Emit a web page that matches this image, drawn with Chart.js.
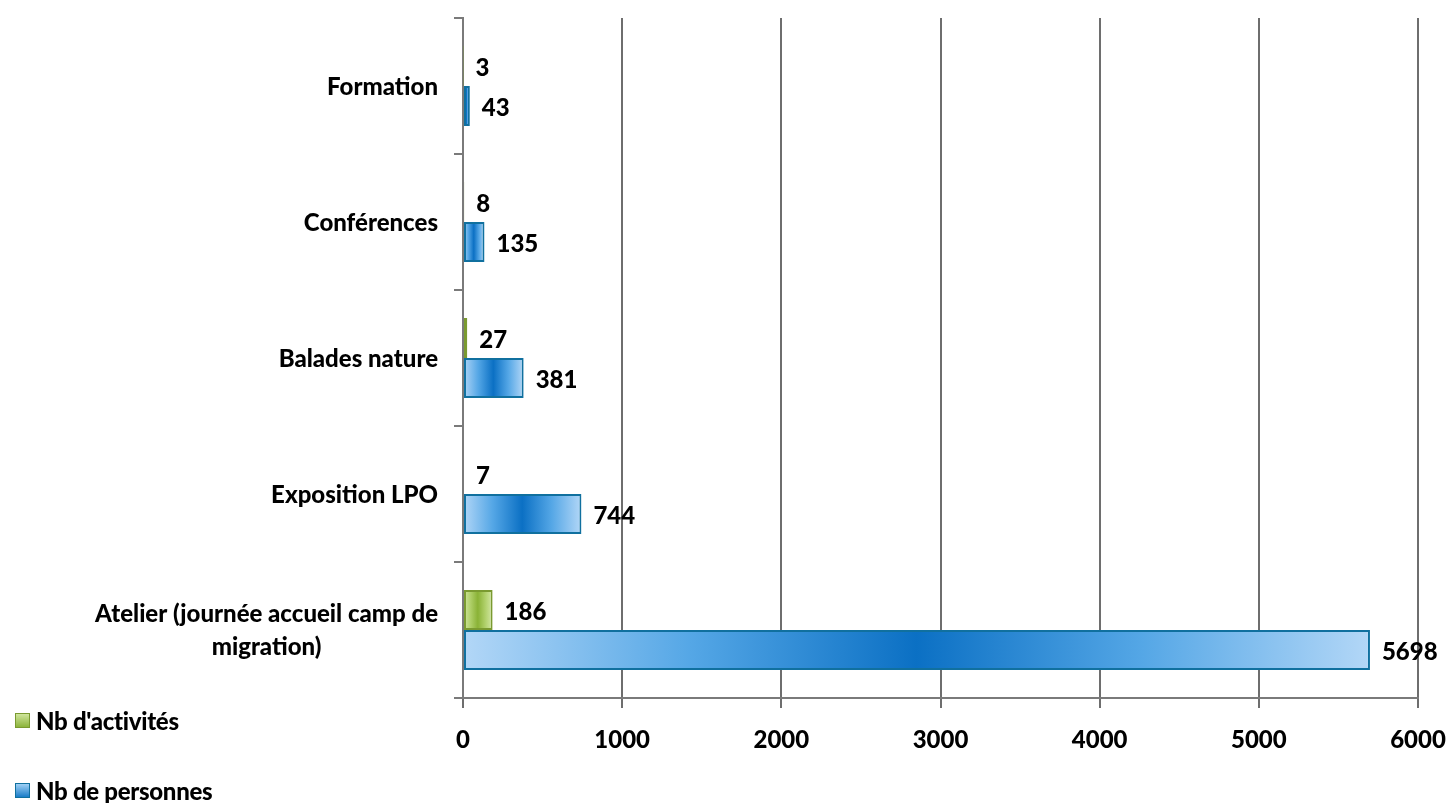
<!DOCTYPE html>
<html>
<head>
<meta charset="utf-8">
<script src="https://cdn.jsdelivr.net/npm/chart.js@4.4.1/dist/chart.umd.min.js"></script>
<style>
  body { margin: 0; background: #fff; }
  #wrap { position: relative; width: 1450px; height: 803px; }
  .legend { position: absolute; left: 15px; font: 900 24px Lato, sans-serif; color: #000; display: flex; align-items: center; letter-spacing: -0.3px; }
  .legend span.box { width: 13px; height: 13px; margin-right: 6px; border: 1px solid; }
</style>
</head>
<body>
<div id="wrap">
  <canvas id="activitiesChart" width="1450" height="803"></canvas>
  <div class="legend" style="top: 706px;"><span class="box" style="background: linear-gradient(#cfe59c, #8db43c); border-color: #7a9a30;"></span>Nb d'activités</div>
  <div class="legend" style="top: 776px;"><span class="box" style="background: linear-gradient(#9fd0f5, #1a7cc8); border-color: #10709f;"></span>Nb de personnes</div>
</div>
<script>
const categories = ['Formation', 'Conférences', 'Balades nature', 'Exposition LPO', ['Atelier (journée accueil camp de', 'migration)']];
const nbActivites = [3, 8, 27, 7, 186];
const nbPersonnes = [43, 135, 381, 744, 5698];
const xTicks = [0, 1000, 2000, 3000, 4000, 5000, 6000];

const labelFont = '900 24px Lato, sans-serif';

// light at both ends, dark in the middle, like the Office fill
function barGradient(light, mid, dark) {
  return function (context) {
    const chart = context.chart;
    const xScale = chart.scales.x;
    if (!chart.chartArea || !xScale || context.type !== 'data') return dark;
    const x0 = xScale.getPixelForValue(0);
    const x1 = xScale.getPixelForValue(context.raw);
    const g = chart.ctx.createLinearGradient(x0, 0, Math.max(x1, x0 + 1), 0);
    g.addColorStop(0, light);
    g.addColorStop(0.25, mid);
    g.addColorStop(0.5, dark);
    g.addColorStop(0.75, mid);
    g.addColorStop(1, light);
    return g;
  };
}

const labelPlugin = {
  id: 'labelPlugin',
  afterDatasetsDraw(chart) {
    const ctx = chart.ctx;
    ctx.save();
    ctx.font = labelFont;
    ctx.fillStyle = '#000';
    ctx.textBaseline = 'middle';
    ctx.textAlign = 'left';
    chart.data.datasets.forEach((ds, i) => {
      chart.getDatasetMeta(i).data.forEach((bar, j) => {
        ctx.fillText(String(ds.data[j]), bar.x + 12, bar.y + 2);
      });
    });
    // category labels, wrapped one centered as a block
    const y = chart.scales.y;
    const right = y.right - 25;
    categories.forEach((cat, j) => {
      const lines = Array.isArray(cat) ? cat : [cat];
      const cy = y.getPixelForValue(j);
      const blockW = Math.max(...lines.map(l => ctx.measureText(l).width));
      const center = right - blockW / 2;
      lines.forEach((l, k) => {
        const ly = cy + (k - (lines.length - 1) / 2) * 33;
        ctx.textAlign = lines.length > 1 ? 'center' : 'right';
        ctx.fillText(l, lines.length > 1 ? center : right, ly + 1);
      });
    });
    ctx.restore();
  }
};

new Chart(document.getElementById('activitiesChart').getContext('2d'), {
  type: 'bar',
  data: {
    labels: categories,
    datasets: [{
      label: "Nb d'activités",
      data: nbActivites,
      backgroundColor: barGradient('#d4e8a6', '#b0d06a', '#8ab236'),
      borderColor: '#7a9a30',
      borderWidth: 2,
      borderSkipped: false,
      categoryPercentage: 0.59,
      barPercentage: 1
    }, {
      label: 'Nb de personnes',
      data: nbPersonnes,
      backgroundColor: barGradient('#b3d7f7', '#55a7e6', '#0b70c4'),
      borderColor: '#10709f',
      borderWidth: 2,
      borderSkipped: false,
      categoryPercentage: 0.59,
      barPercentage: 1
    }]
  },
  options: {
    indexAxis: 'y',
    responsive: false,
    animation: false,
    events: [],
    layout: {
      padding: { top: 18, right: 0, left: 0, bottom: 0 }
    },
    plugins: {
      legend: { display: false },
      tooltip: { enabled: false }
    },
    scales: {
      x: {
        min: 0,
        max: 6000,
        afterBuildTicks: s => { s.ticks = xTicks.map(v => ({ value: v })); },
        afterFit: s => { s.height = 105; s.paddingRight = 32; },
        grid: { color: '#6e6e6e', lineWidth: 2, tickLength: 10 },
        border: { display: true, color: '#7a7a7a', width: 2 },
        ticks: {
          color: '#000',
          font: { family: 'Lato, sans-serif', size: 24, weight: '900' },
          padding: 18,
          callback: v => String(v)
        }
      },
      y: {
        afterFit: s => { s.width = 463; },
        grid: { offset: true, drawOnChartArea: false, color: '#7a7a7a', lineWidth: 2, tickLength: 9 },
        border: { display: true, color: '#7a7a7a', width: 2 },
        ticks: { display: false }
      }
    }
  },
  plugins: [labelPlugin]
});
</script>
</body>
</html>
